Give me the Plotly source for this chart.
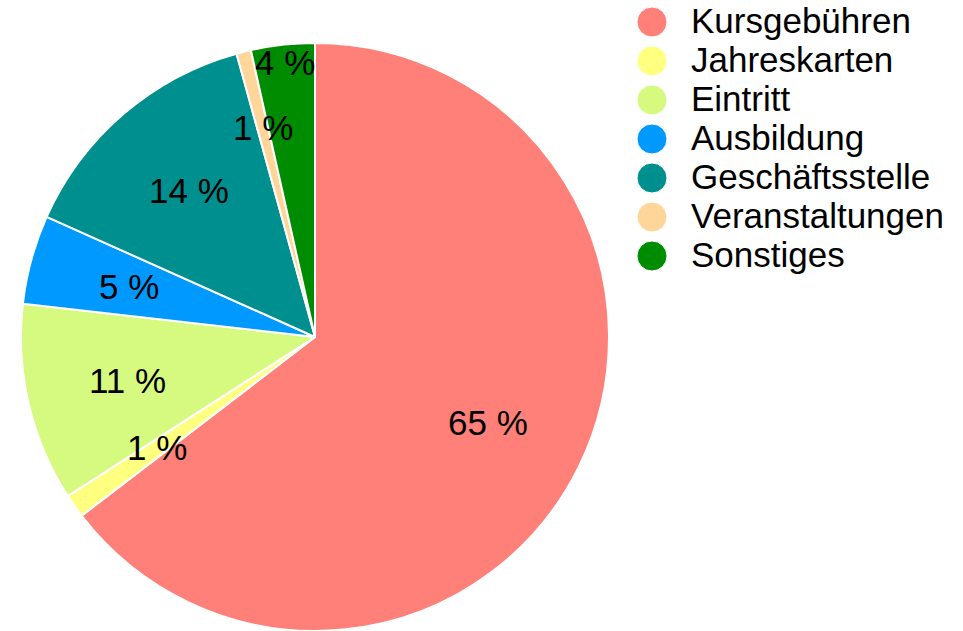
import math
import plotly.graph_objects as go

labels = ["Kursgebühren", "Jahreskarten", "Eintritt", "Ausbildung",
          "Geschäftsstelle", "Veranstaltungen", "Sonstiges"]
values = [64.6, 1.3, 10.9, 4.9, 14.0, 0.8, 3.5]
colors = ["#FF7F79", "#FFFF80", "#D5FA7F", "#0099FF", "#008F8F", "#FFD699", "#008C00"]
# radial position of each percentage label (fraction of pie radius)
label_radius = [0.655, 0.655, 0.655, 0.655, 0.655, 0.735, 0.94]

W, H = 963, 631
font_family = "Liberation Sans, Arial, Helvetica, sans-serif"

# pie geometry in pixels
CX, CY, R = 315, 337, 294

fig = go.Figure()
fig.add_trace(go.Pie(
    labels=labels,
    values=values,
    sort=False,
    direction="clockwise",
    rotation=0,
    marker=dict(colors=colors, line=dict(color="white", width=2)),
    textinfo="none",
    domain=dict(x=[(CX - R) / W, (CX + R) / W], y=[0, 1 - (CY - R) / H]),
    showlegend=False,
    hoverinfo="label+percent",
))

annotations = []

# percentage labels at each slice's mid-angle (derived from the values)
total = sum(values)
cum = 0.0
for v, rf in zip(values, label_radius):
    mid = (cum + v / 2) / total * 2 * math.pi
    cum += v
    px = CX + rf * R * math.sin(mid)
    py = CY - rf * R * math.cos(mid)
    annotations.append(dict(
        text=f"{round(v / total * 100):.0f} %",
        xref="paper", yref="paper",
        x=px / W, y=1 - py / H, xanchor="center", yanchor="middle",
        showarrow=False,
        font=dict(family=font_family, size=35, color="black"),
    ))

# custom legend (compact row spacing as in reference)
shapes = []
row0, step = 22, 39
for i, (lab, col) in enumerate(zip(labels, colors)):
    yc = 1 - (row0 + step * i) / H
    shapes.append(dict(
        type="circle", xref="paper", yref="paper",
        xsizemode="pixel", ysizemode="pixel",
        xanchor=652 / W, yanchor=yc,
        x0=-15, x1=15, y0=-15, y1=15,
        fillcolor=col, line=dict(color="white", width=1),
    ))
    annotations.append(dict(
        text=lab, xref="paper", yref="paper",
        x=689 / W, y=yc + 1.5 / H, xanchor="left", yanchor="middle",
        showarrow=False,
        font=dict(family=font_family, size=35, color="black"),
    ))

fig.update_layout(
    width=W, height=H,
    margin=dict(l=0, r=0, t=0, b=0),
    paper_bgcolor="white",
    plot_bgcolor="white",
    annotations=annotations,
    shapes=shapes,
    font=dict(family=font_family),
)

fig.write_html(
    "out.html",
    config={"displayModeBar": False},
    post_script="document.body.style.margin='0';document.body.style.overflow='hidden';",
)
